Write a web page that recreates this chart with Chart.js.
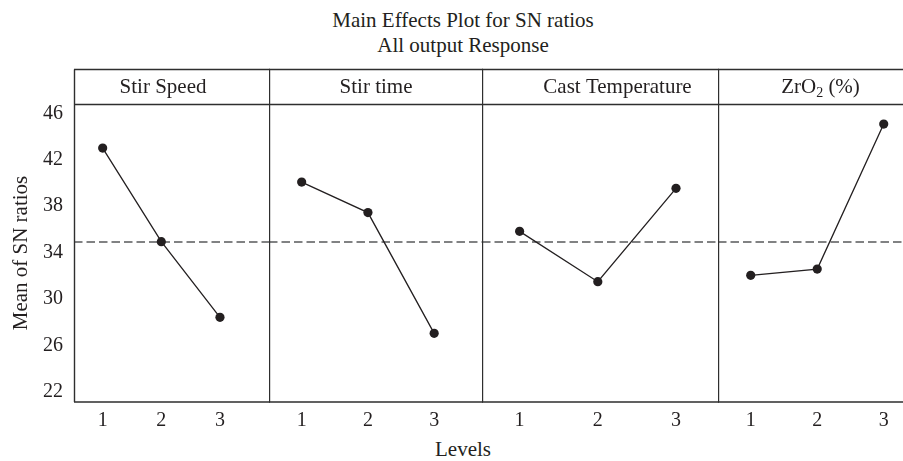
<!DOCTYPE html>
<html>
<head>
<meta charset="utf-8">
<script src="https://cdn.jsdelivr.net/npm/chart.js@4.4.1/dist/chart.umd.min.js"></script>
<style>
  html, body { margin: 0; padding: 0; background: #fff; }
  #wrap { position: relative; width: 903px; height: 461px; overflow: hidden;
          font-family: "Liberation Serif", serif; color: #231f20; }
  #wrap canvas { position: absolute; top: 0; }
  .txt { position: absolute; white-space: nowrap; font-size: 21px; line-height: 24px;
         transform: translate(-50%, -50%); }
</style>
</head>
<body>
<div id="wrap">
  <div class="txt" style="left:463px;top:20px">Main Effects Plot for SN ratios</div>
  <div class="txt" style="left:463px;top:45px">All output Response</div>
  <div class="txt" style="left:463px;top:449px">Levels</div>
</div>
<script>
// values
const factors = ['Stir Speed', 'Stir time', 'Cast Temperature', 'ZrO₂ (%)'];
const levels = [1, 2, 3];
const stirSpeed = [42.84, 34.77, 28.25];
const stirTime = [39.91, 37.28, 26.87];
const castTemp = [35.66, 31.32, 39.37];
const zro2 = [31.87, 32.41, 44.91];
const grandMean = 34.74;
const yTicks = [22, 26, 30, 34, 38, 42, 46];

const seriesList = [stirSpeed, stirTime, castTemp, zro2];

// layout of the four panels (pixels / axis bounds)
const yMin = 20.95, yMax = 46.64;
const H = 461, areaTop = 104, headerTop = 69.5, xAxisH = 59;
const panels = [
    { left: 0,   width: 270, axisW: 74, xMin: 0.511, xMax: 3.853, labelDx: -9 },
    { left: 269, width: 214, axisW: 0,  xMin: 0.507, xMax: 3.737, labelDx: 0 },
    { left: 482, width: 237, axisW: 0,  xMin: 0.519, xMax: 3.55,  labelDx: 17 },
    { left: 718, width: 185, axisW: 0,  xMin: 0.508, xMax: 3.29,  labelDx: 10 },
];

const ink = '#231f20';
const serif = '"Liberation Serif", serif';

function drawLabel(ctx, text, cx, cy) {
    // split so that subscript digits get a smaller, lowered font
    const parts = text.split(/([₀-₉])/).filter(s => s.length);
    const big = '21px ' + serif, small = '14px ' + serif;
    const pieces = parts.map(s => {
        const sub = /[₀-₉]/.test(s);
        const t = sub ? String(s.charCodeAt(0) - 0x2080) : s;
        ctx.font = sub ? small : big;
        return { t, sub, w: ctx.measureText(t).width };
    });
    let x = cx - pieces.reduce((a, p) => a + p.w, 0) / 2;
    ctx.textAlign = 'left';
    ctx.textBaseline = 'middle';
    pieces.forEach(p => {
        ctx.font = p.sub ? small : big;
        ctx.fillText(p.t, x, p.sub ? cy + 6 : cy);
        x += p.w;
    });
}

const framePlugin = {
    id: 'frame',
    beforeDatasetsDraw(chart) {
        const { ctx, chartArea: a, scales: { y } } = chart;
        const yy = y.getPixelForValue(grandMean);
        ctx.save();
        ctx.strokeStyle = '#58595b';
        ctx.lineWidth = 1.4;
        ctx.setLineDash([8.5, 4]);
        ctx.beginPath();
        ctx.moveTo(a.left, yy);
        ctx.lineTo(chart.width, yy);
        ctx.stroke();
        ctx.restore();
    },
    afterDraw(chart, args, opts) {
        const { ctx, chartArea: a } = chart;
        const l = a.left + 0.5;
        ctx.save();
        ctx.strokeStyle = '#2e2e2e';
        ctx.lineWidth = 1.4;
        ctx.beginPath();
        ctx.moveTo(l, headerTop); ctx.lineTo(l, a.bottom);
        ctx.moveTo(a.left, headerTop); ctx.lineTo(chart.width, headerTop);
        ctx.moveTo(a.left, a.top + 0.5); ctx.lineTo(chart.width, a.top + 0.5);
        ctx.moveTo(a.left, a.bottom); ctx.lineTo(chart.width, a.bottom);
        ctx.stroke();
        ctx.fillStyle = ink;
        drawLabel(ctx, opts.label, (a.left + a.right) / 2 + opts.dx, (headerTop + a.top) / 2 + 1);
        ctx.restore();
    }
};

const wrap = document.getElementById('wrap');

panels.forEach((p, i) => {
    const canvas = document.createElement('canvas');
    canvas.width = p.width;
    canvas.height = H;
    canvas.style.left = p.left + 'px';
    wrap.appendChild(canvas);

    const font = { family: serif, size: 20 };

    new Chart(canvas, {
        type: 'line',
        data: {
            datasets: [{
                data: levels.map((lv, k) => ({ x: lv, y: seriesList[i][k] })),
                borderColor: ink,
                borderWidth: 1.3,
                pointRadius: 4.6,
                pointBackgroundColor: ink,
                pointBorderWidth: 0,
                tension: 0
            }]
        },
        options: {
            responsive: false,
            animation: false,
            layout: { autoPadding: false, padding: { top: areaTop, left: 0, right: 0, bottom: 0 } },
            plugins: {
                legend: { display: false },
                tooltip: { enabled: false },
                frame: { label: factors[i], dx: p.labelDx }
            },
            scales: {
                x: {
                    type: 'linear',
                    min: p.xMin,
                    max: p.xMax,
                    afterBuildTicks: s => { s.ticks = levels.map(v => ({ value: v })); },
                    afterFit: s => { s.height = xAxisH; s.paddingLeft = 0; s.paddingRight = 0; },
                    grid: { display: false, drawTicks: false },
                    border: { display: false },
                    ticks: { color: ink, font, padding: 7 }
                },
                y: {
                    display: i === 0,
                    min: yMin,
                    max: yMax,
                    afterBuildTicks: s => { s.ticks = yTicks.map(v => ({ value: v })); },
                    afterFit: s => { s.width = p.axisW; },
                    grid: { display: false, drawTicks: false },
                    border: { display: false },
                    ticks: { color: ink, font, padding: 11, labelOffset: 2 },
                    title: {
                        display: true,
                        text: 'Mean of SN ratios',
                        color: ink,
                        font: { family: serif, size: 21 },
                        padding: { top: 9, bottom: 0 }
                    }
                }
            }
        },
        plugins: [framePlugin]
    });
});
</script>
</body>
</html>
